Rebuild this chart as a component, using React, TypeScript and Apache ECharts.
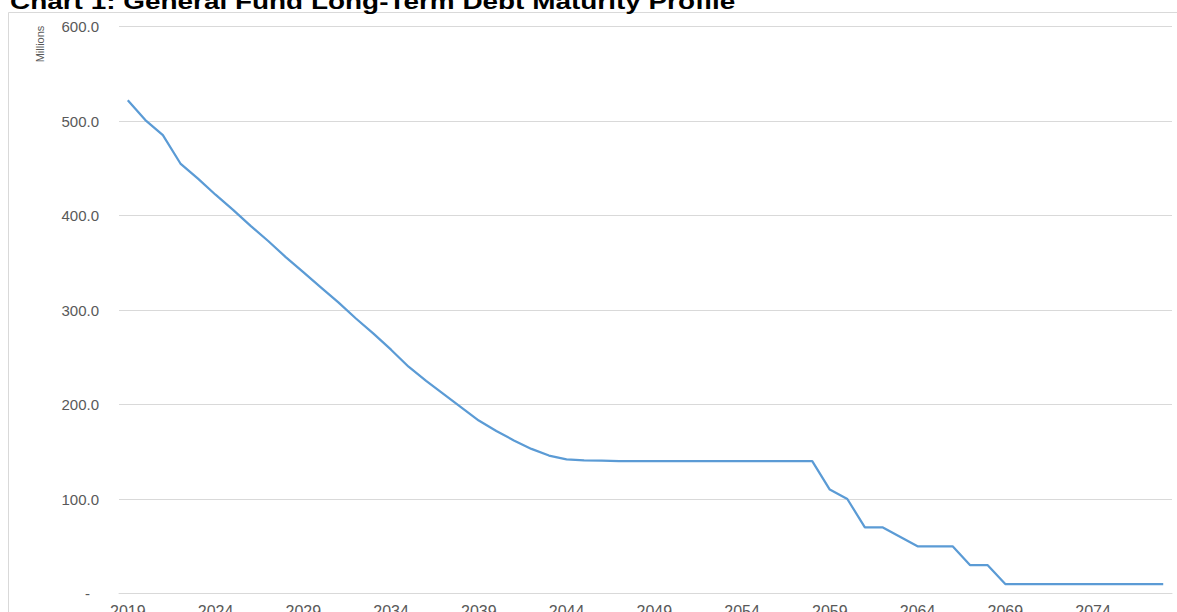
import React, { useEffect, useRef } from "react";
import * as echarts from "echarts";

const years: string[] = [
  "2019", "2020", "2021", "2022", "2023", "2024", "2025", "2026", "2027", "2028",
  "2029", "2030", "2031", "2032", "2033", "2034", "2035", "2036", "2037", "2038",
  "2039", "2040", "2041", "2042", "2043", "2044", "2045", "2046", "2047", "2048",
  "2049", "2050", "2051", "2052", "2053", "2054", "2055", "2056", "2057", "2058",
  "2059", "2060", "2061", "2062", "2063", "2064", "2065", "2066", "2067", "2068",
  "2069", "2070", "2071", "2072", "2073", "2074", "2075", "2076", "2077", "2078",
];

const debtMillions: number[] = [
  522, 501, 485, 455, 439, 422, 406, 389, 373, 356,
  340, 324, 308, 291, 275, 258, 240, 225, 211, 197,
  183, 172, 162, 153, 146, 142, 141, 140.5, 140, 140,
  140, 140, 140, 140, 140, 140, 140, 140, 140, 140,
  110, 100, 70, 70, 60, 50, 50, 50, 30, 30,
  10, 10, 10, 10, 10, 10, 10, 10, 10, 10,
];

const yTicks: number[] = [0, 100, 200, 300, 400, 500, 600];

const titleText = "Chart 1: General Fund Long-Term Debt Maturity Profile";
const yUnitText = "Millions";

const FONT = "'Liberation Sans', Arial, sans-serif";

export default function App() {
  const ref = useRef<HTMLDivElement>(null);

  useEffect(() => {
    if (!ref.current) return;
    const chart = echarts.init(ref.current, null, { renderer: "svg" });
    chart.setOption({
      animation: false,
      backgroundColor: "#ffffff",
      textStyle: { fontFamily: FONT },
      grid: {
        left: 119,
        right: 5,
        top: 26.5,
        bottom: 18.5,
        containLabel: false,
        outerBoundsMode: "none",
      },
      xAxis: {
        type: "category",
        data: years,
        boundaryGap: true,
        axisLine: { show: true, lineStyle: { color: "#d9d9d9", width: 1 } },
        axisTick: { show: false },
        axisLabel: {
          interval: 4,
          color: "#595959",
          fontSize: 16,
          margin: 10,
          fontFamily: FONT,
        },
        splitLine: { show: false },
      },
      yAxis: {
        type: "value",
        min: yTicks[0],
        max: yTicks[yTicks.length - 1],
        interval: 100,
        axisLine: { show: false },
        axisTick: { show: false },
        axisLabel: {
          color: "#595959",
          fontSize: 15,
          margin: 20,
          fontFamily: FONT,
          formatter: (v: number) => (v === 0 ? "{d|-}" : v.toFixed(1)),
          rich: {
            d: { color: "#595959", fontSize: 15, fontFamily: FONT, padding: [0, 9, 0, 0] },
          },
        },
        splitLine: { show: true, lineStyle: { color: "#d9d9d9", width: 1 } },
      },
      series: [
        {
          type: "line",
          data: debtMillions,
          symbol: "none",
          smooth: false,
          lineStyle: { color: "#5b9bd5", width: 2.25 },
        },
      ],
      graphic: [
        {
          type: "rect",
          z: -10,
          shape: { x: 8.5, y: 12.5, width: 1300, height: 700 },
          style: { fill: "none", stroke: "#d9d9d9", lineWidth: 1 },
          silent: true,
        },
        {
          type: "text",
          x: 10,
          y: 12,
          scaleX: 1.27,
          style: {
            text: titleText,
            fontSize: 22,
            fontWeight: "bold",
            fontFamily: FONT,
            fill: "#000000",
            align: "left",
            verticalAlign: "bottom",
          },
          silent: true,
        },
        {
          type: "text",
          x: 40,
          y: 44,
          rotation: Math.PI / 2,
          style: {
            text: yUnitText,
            fontSize: 11,
            fontFamily: FONT,
            fill: "#595959",
            align: "center",
            verticalAlign: "middle",
          },
          silent: true,
        },
      ],
    });
    return () => chart.dispose();
  }, []);

  return (
    <div
      ref={ref}
      style={{ position: "fixed", left: 0, top: 0, width: 1177, height: 612 }}
    />
  );
}
